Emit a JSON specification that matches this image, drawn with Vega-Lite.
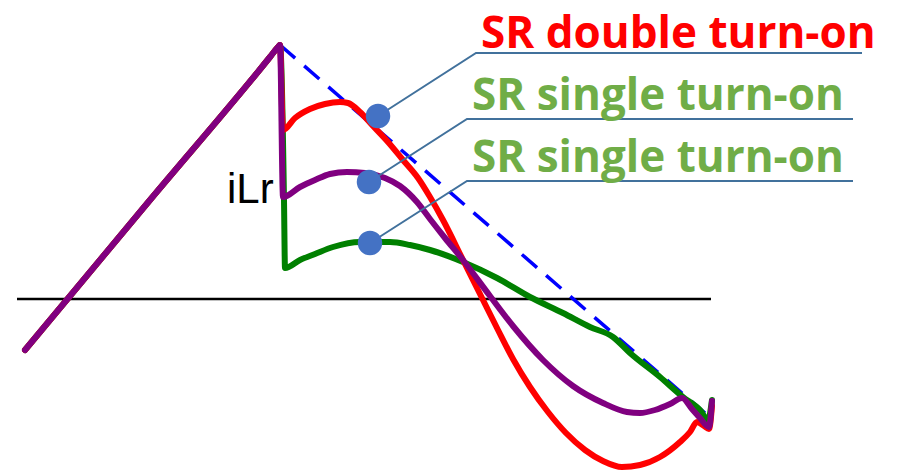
{
  "$schema": "https://vega.github.io/schema/vega-lite/v6.json",
  "width": 897,
  "height": 476,
  "autosize": {"type": "fit", "contains": "padding"},
  "padding": 0,
  "background": "white",
  "config": {"view": {"stroke": null}},
  "datasets": {
    "axisLine": [{"t": 17, "i": 0}, {"t": 711, "i": 0}],
    "envelope": [{"t": 280, "i": 254}, {"t": 705, "i": -114}],
    "current": [
      {"mode": "single_low", "k": 0, "t": 25, "i": -51},
      {"mode": "single_low", "k": 1, "t": 150, "i": 99},
      {"mode": "single_low", "k": 2, "t": 270, "i": 242},
      {"mode": "single_low", "k": 3, "t": 278, "i": 252},
      {"mode": "single_low", "k": 4, "t": 280, "i": 254},
      {"mode": "single_low", "k": 5, "t": 284, "i": 99},
      {"mode": "single_low", "k": 6, "t": 285, "i": 31},
      {"mode": "single_low", "k": 7, "t": 300, "i": 39},
      {"mode": "single_low", "k": 8, "t": 315, "i": 45},
      {"mode": "single_low", "k": 9, "t": 333, "i": 52},
      {"mode": "single_low", "k": 10, "t": 360, "i": 57},
      {"mode": "single_low", "k": 11, "t": 390, "i": 57},
      {"mode": "single_low", "k": 12, "t": 410, "i": 54},
      {"mode": "single_low", "k": 13, "t": 430, "i": 49},
      {"mode": "single_low", "k": 14, "t": 463, "i": 37},
      {"mode": "single_low", "k": 15, "t": 497, "i": 21},
      {"mode": "single_low", "k": 16, "t": 530, "i": 2},
      {"mode": "single_low", "k": 17, "t": 563, "i": -14},
      {"mode": "single_low", "k": 18, "t": 590, "i": -28},
      {"mode": "single_low", "k": 19, "t": 613, "i": -38},
      {"mode": "single_low", "k": 20, "t": 630, "i": -54},
      {"mode": "single_low", "k": 21, "t": 660, "i": -78},
      {"mode": "single_low", "k": 22, "t": 683, "i": -98},
      {"mode": "single_low", "k": 23, "t": 700, "i": -111},
      {"mode": "single_low", "k": 24, "t": 708, "i": -121},
      {"mode": "single_low", "k": 25, "t": 712, "i": -101},

      {"mode": "double", "k": 0, "t": 25, "i": -51},
      {"mode": "double", "k": 1, "t": 150, "i": 99},
      {"mode": "double", "k": 2, "t": 270, "i": 242},
      {"mode": "double", "k": 3, "t": 278, "i": 252},
      {"mode": "double", "k": 4, "t": 280, "i": 254},
      {"mode": "double", "k": 5, "t": 283, "i": 169},
      {"mode": "double", "k": 6, "t": 295, "i": 181},
      {"mode": "double", "k": 7, "t": 310, "i": 190},
      {"mode": "double", "k": 8, "t": 325, "i": 195},
      {"mode": "double", "k": 9, "t": 340, "i": 197},
      {"mode": "double", "k": 10, "t": 348, "i": 196},
      {"mode": "double", "k": 11, "t": 360, "i": 187},
      {"mode": "double", "k": 12, "t": 373, "i": 173},
      {"mode": "double", "k": 13, "t": 388, "i": 157},
      {"mode": "double", "k": 14, "t": 403, "i": 139},
      {"mode": "double", "k": 15, "t": 418, "i": 121},
      {"mode": "double", "k": 16, "t": 430, "i": 102},
      {"mode": "double", "k": 17, "t": 443, "i": 79},
      {"mode": "double", "k": 18, "t": 463, "i": 39},
      {"mode": "double", "k": 19, "t": 483, "i": -1},
      {"mode": "double", "k": 20, "t": 498, "i": -31},
      {"mode": "double", "k": 21, "t": 513, "i": -60},
      {"mode": "double", "k": 22, "t": 530, "i": -88},
      {"mode": "double", "k": 23, "t": 548, "i": -113},
      {"mode": "double", "k": 24, "t": 566, "i": -134},
      {"mode": "double", "k": 25, "t": 585, "i": -151},
      {"mode": "double", "k": 26, "t": 603, "i": -162},
      {"mode": "double", "k": 27, "t": 622, "i": -168},
      {"mode": "double", "k": 28, "t": 640, "i": -166},
      {"mode": "double", "k": 29, "t": 660, "i": -158},
      {"mode": "double", "k": 30, "t": 680, "i": -143},
      {"mode": "double", "k": 31, "t": 690, "i": -133},
      {"mode": "double", "k": 32, "t": 697, "i": -123},
      {"mode": "double", "k": 33, "t": 704, "i": -127},
      {"mode": "double", "k": 34, "t": 709, "i": -130},
      {"mode": "double", "k": 35, "t": 712, "i": -107},

      {"mode": "single_mid", "k": 0, "t": 25, "i": -51},
      {"mode": "single_mid", "k": 1, "t": 150, "i": 99},
      {"mode": "single_mid", "k": 2, "t": 270, "i": 242},
      {"mode": "single_mid", "k": 3, "t": 278, "i": 252},
      {"mode": "single_mid", "k": 4, "t": 280, "i": 254},
      {"mode": "single_mid", "k": 5, "t": 283, "i": 102},
      {"mode": "single_mid", "k": 6, "t": 300, "i": 112},
      {"mode": "single_mid", "k": 7, "t": 315, "i": 119},
      {"mode": "single_mid", "k": 8, "t": 330, "i": 125},
      {"mode": "single_mid", "k": 9, "t": 347, "i": 127},
      {"mode": "single_mid", "k": 10, "t": 365, "i": 126},
      {"mode": "single_mid", "k": 11, "t": 385, "i": 121},
      {"mode": "single_mid", "k": 12, "t": 400, "i": 113},
      {"mode": "single_mid", "k": 13, "t": 417, "i": 97},
      {"mode": "single_mid", "k": 14, "t": 430, "i": 80},
      {"mode": "single_mid", "k": 15, "t": 445, "i": 61},
      {"mode": "single_mid", "k": 16, "t": 463, "i": 39},
      {"mode": "single_mid", "k": 17, "t": 490, "i": 3},
      {"mode": "single_mid", "k": 18, "t": 513, "i": -27},
      {"mode": "single_mid", "k": 19, "t": 543, "i": -61},
      {"mode": "single_mid", "k": 20, "t": 573, "i": -87},
      {"mode": "single_mid", "k": 21, "t": 603, "i": -104},
      {"mode": "single_mid", "k": 22, "t": 627, "i": -113},
      {"mode": "single_mid", "k": 23, "t": 640, "i": -114},
      {"mode": "single_mid", "k": 24, "t": 655, "i": -111},
      {"mode": "single_mid", "k": 25, "t": 670, "i": -105},
      {"mode": "single_mid", "k": 26, "t": 682, "i": -99},
      {"mode": "single_mid", "k": 27, "t": 692, "i": -110},
      {"mode": "single_mid", "k": 28, "t": 700, "i": -119},
      {"mode": "single_mid", "k": 29, "t": 709, "i": -128},
      {"mode": "single_mid", "k": 30, "t": 712, "i": -102}
    ],
    "leaders": [
      {"tag": "a", "k": 0, "t": 378, "i": 183},
      {"tag": "a", "k": 1, "t": 476, "i": 246},
      {"tag": "a", "k": 2, "t": 862, "i": 246},
      {"tag": "b", "k": 0, "t": 369, "i": 117},
      {"tag": "b", "k": 1, "t": 467, "i": 180},
      {"tag": "b", "k": 2, "t": 853, "i": 180},
      {"tag": "c", "k": 0, "t": 370, "i": 56},
      {"tag": "c", "k": 1, "t": 467, "i": 118},
      {"tag": "c", "k": 2, "t": 853, "i": 118}
    ],
    "markers": [
      {"t": 378, "i": 183},
      {"t": 369, "i": 117},
      {"t": 370, "i": 56}
    ],
    "labels": [
      {"label": "SR double turn-on", "t": 481, "i": 251, "col": "#FF0000"},
      {"label": "SR single turn-on", "t": 472, "i": 189, "col": "#70AD47"},
      {"label": "SR single turn-on", "t": 472, "i": 127, "col": "#70AD47"}
    ]
  },
  "encoding": {
    "x": {"field": "t", "type": "quantitative", "scale": {"domain": [0, 897], "nice": false, "zero": false}, "axis": null},
    "y": {"field": "i", "type": "quantitative", "scale": {"domain": [-177, 299], "nice": false, "zero": false}, "axis": null}
  },
  "layer": [
    {
      "data": {"name": "axisLine"},
      "mark": {"type": "line", "color": "black", "strokeWidth": 2.5},
      "encoding": {}
    },
    {
      "data": {"name": "envelope"},
      "mark": {"type": "line", "color": "#0000FF", "strokeWidth": 3.5, "strokeDash": [20, 12]},
      "encoding": {}
    },
    {
      "data": {"name": "current"},
      "mark": {"type": "line", "strokeWidth": 6, "strokeCap": "round", "strokeJoin": "round", "interpolate": "monotone"},
      "encoding": {
        "color": {"field": "mode", "type": "nominal", "legend": null,
          "scale": {"domain": ["single_low", "double", "single_mid"], "range": ["#008000", "#FF0000", "#800080"]}},
        "order": {"field": "k", "type": "quantitative"}
      }
    },
    {
      "data": {"name": "leaders"},
      "mark": {"type": "line", "color": "#41719C", "strokeWidth": 2},
      "encoding": {
        "detail": {"field": "tag", "type": "nominal"},
        "order": {"field": "k", "type": "quantitative"}
      }
    },
    {
      "data": {"name": "markers"},
      "mark": {"type": "circle", "color": "#4472C4", "opacity": 1, "size": 600}
    },
    {
      "data": {"name": "labels"},
      "mark": {"type": "text", "align": "left", "baseline": "alphabetic", "font": "Open Sans", "fontWeight": "bold", "fontSize": 44},
      "encoding": {
        "text": {"field": "label"},
        "color": {"field": "col", "type": "nominal", "scale": null}
      }
    },
    {
      "data": {"values": [{"label": "iLr", "t": 227, "i": 96}]},
      "mark": {"type": "text", "align": "left", "baseline": "alphabetic", "font": "Liberation Sans", "fontSize": 42, "color": "black"},
      "encoding": {"text": {"field": "label"}}
    }
  ]
}
